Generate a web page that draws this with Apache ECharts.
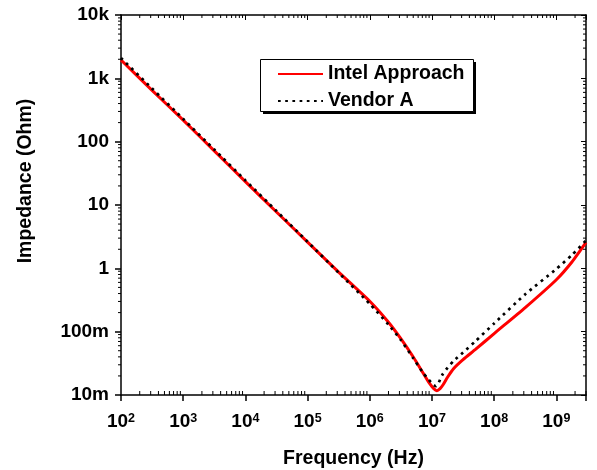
<!DOCTYPE html>
<html>
<head>
<meta charset="utf-8">
<script src="https://cdn.jsdelivr.net/npm/echarts@6/dist/echarts.min.js"></script>
<style>
    html, body { margin: 0; padding: 0; background: #fff; }
    #chart { width: 597px; height: 470px; }
</style>
</head>
<body>
<div id="chart"></div>
<script>
// data (Hz, Ohm)
var intelFreq = [100, 316, 1000, 3162, 1e4, 31623, 1e5, 316228, 1e6, 2.0e6, 3.16e6, 5.01e6, 7.08e6, 8.91e6,
    1.07e7, 1.20e7, 1.35e7, 1.51e7, 1.78e7, 2.24e7, 3.16e7, 5.01e7, 1e8, 3.16e8, 1e9, 1.78e9, 3e9];
var intelZ = [1950, 646, 219, 71.6, 23.4, 7.76, 2.60, 0.871, 0.302, 0.141, 0.0776, 0.0398, 0.0229, 0.0158,
    0.0126, 0.0117, 0.0126, 0.0145, 0.0191, 0.0263, 0.0363, 0.0525, 0.0933, 0.240, 0.661, 1.26, 2.57];

var vendorFreq = [100, 316, 1000, 3162, 1e4, 31623, 1e5, 316228, 1e6, 2.0e6, 3.16e6, 5.01e6, 7.08e6, 8.91e6,
    1.05e7, 1.15e7, 1.26e7, 1.45e7, 1.78e7, 2.24e7, 3.16e7, 5.01e7, 1e8, 3.16e8, 1e9, 1.78e9, 3e9];
var vendorZ = [2090, 692, 229, 75.0, 24.5, 8.04, 2.63, 0.851, 0.275, 0.129, 0.0741, 0.0380, 0.0229, 0.0174,
    0.0145, 0.0138, 0.0151, 0.0204, 0.0269, 0.0347, 0.0468, 0.0708, 0.135, 0.389, 0.977, 1.62, 2.75];

var seriesNames = ['Intel Approach', 'Vendor A'];
var yTickLabels = ['10m', '100m', '1', '10', '100', '1k', '10k'];   // 1e-2 .. 1e4

var xMin = 100, xMax = 3e9, yMin = 0.01, yMax = 10000;
var font = 'Liberation Sans, Arial, sans-serif';

function pairs(xs, ys) {
    var out = [];
    for (var i = 0; i < xs.length; i++) out.push([xs[i], ys[i]]);
    return out;
}

// minor ticks 2..9 in every decade
function minorTicks(lo, hi) {
    var list = [];
    for (var e = Math.floor(Math.log10(lo)); e <= Math.ceil(Math.log10(hi)); e++) {
        for (var m = 2; m <= 9; m++) {
            var v = m * Math.pow(10, e);
            if (v > lo && v < hi * 1.0001) list.push(v);
        }
    }
    return list;
}

function decade(v) {
    var l = Math.log10(v), e = Math.round(l);
    return Math.abs(l - e) < 0.01 ? e : null;
}

var myChart = echarts.init(document.getElementById('chart'));

var axisLine = {lineStyle: {color: '#000', width: 1.5}};

var option = {
    animation: false,
    grid: {left: 121, right: 11, top: 15, bottom: 75, outerBoundsMode: 'none'},
    // legend frame with its hard shadow
    graphic: [
        {type: 'rect', left: 263, top: 62, z: 1, shape: {width: 213, height: 52}, style: {fill: '#000'}},
        {type: 'rect', left: 260, top: 59, z: 2, shape: {width: 213, height: 52}, style: {fill: '#fff', stroke: '#000', lineWidth: 1}}
    ],
    legend: {
        data: seriesNames,
        orient: 'vertical',
        left: 260,
        top: 59,
        padding: [5, 12, 1, 17],
        itemWidth: 45,
        itemHeight: 20,
        itemGap: 7,
        z: 10,
        itemStyle: {opacity: 0},
        textStyle: {fontFamily: font, fontWeight: 'bold', fontSize: 19.5, color: '#000'}
    },
    xAxis: [
        {
            type: 'log',
            min: xMin,
            max: xMax,
            position: 'bottom',
            name: 'Frequency (Hz)',
            nameLocation: 'middle',
            nameGap: 54,
            nameTextStyle: {fontFamily: font, fontWeight: 'bold', fontSize: 19.5, color: '#000'},
            axisLine: axisLine,
            axisTick: {length: 6, lineStyle: {color: '#000', width: 1.5}},
            splitLine: {show: false},
            axisLabel: {
                margin: 17,
                formatter: function (v) {
                    var e = decade(v);
                    return e === null ? '' : '{b|10}{s|' + e + '}';
                },
                rich: {
                    b: {fontFamily: font, fontWeight: 'bold', fontSize: 19, color: '#000', lineHeight: 20},
                    s: {fontFamily: font, fontWeight: 'bold', fontSize: 12.5, color: '#000', verticalAlign: 'top', lineHeight: 20}
                }
            }
        },
        {
            type: 'log',
            min: xMin,
            max: xMax,
            position: 'top',
            axisLine: axisLine,
            axisTick: {inside: true, length: 5, lineStyle: {color: '#000', width: 1}},
            axisLabel: {show: false},
            splitLine: {show: false}
        }
    ],
    yAxis: [
        {
            type: 'log',
            min: yMin,
            max: yMax,
            position: 'left',
            name: 'Impedance (Ohm)',
            nameLocation: 'middle',
            nameGap: 85,
            nameTextStyle: {fontFamily: font, fontWeight: 'bold', fontSize: 19.5, color: '#000', padding: [0, 0, 0, 48]},
            axisLine: axisLine,
            axisTick: {length: 6, lineStyle: {color: '#000', width: 1.5}},
            splitLine: {show: false},
            axisLabel: {
                margin: 12,
                fontFamily: font,
                fontWeight: 'bold',
                fontSize: 19,
                color: '#000',
                formatter: function (v) {
                    var e = decade(v);
                    return e === null ? '' : yTickLabels[e + 2];
                }
            }
        },
        {
            type: 'log',
            min: yMin,
            max: yMax,
            position: 'right',
            axisLine: axisLine,
            axisTick: {inside: true, length: 5, lineStyle: {color: '#000', width: 1}},
            axisLabel: {show: false},
            splitLine: {show: false}
        }
    ],
    series: [
        {
            name: seriesNames[0],
            type: 'line',
            data: pairs(intelFreq, intelZ),
            showSymbol: false,
            symbol: 'none',
            smooth: 0.2,
            lineStyle: {color: '#ff0000', width: 3},
            itemStyle: {color: '#ff0000'},
            z: 3
        },
        {
            name: seriesNames[1],
            type: 'line',
            data: pairs(vendorFreq, vendorZ),
            showSymbol: false,
            symbol: 'none',
            smooth: 0.2,
            lineStyle: {color: '#000', width: 2.7, type: [2.7, 4.5]},
            itemStyle: {color: '#000'},
            z: 4
        },
        {
            // minor ticks on the frequency axes
            type: 'custom',
            silent: true,
            clip: false,
            data: minorTicks(xMin, xMax).map(function (v) { return [v, yMin]; }),
            renderItem: function (params, api) {
                var b = api.coord([api.value(0), yMin]);
                var t = api.coord([api.value(0), yMax]);
                var st = {stroke: '#000', lineWidth: 1};
                return {
                    type: 'group',
                    children: [
                        {type: 'line', shape: {x1: b[0], y1: b[1], x2: b[0], y2: b[1] - 4}, style: st},
                        {type: 'line', shape: {x1: t[0], y1: t[1], x2: t[0], y2: t[1] + 3}, style: st}
                    ]
                };
            },
            z: 5
        },
        {
            // minor ticks on the impedance axes
            type: 'custom',
            silent: true,
            clip: false,
            data: minorTicks(yMin, yMax).map(function (v) { return [xMin, v]; }),
            renderItem: function (params, api) {
                var l = api.coord([xMin, api.value(1)]);
                var r = api.coord([xMax, api.value(1)]);
                var st = {stroke: '#000', lineWidth: 1};
                return {
                    type: 'group',
                    children: [
                        {type: 'line', shape: {x1: l[0], y1: l[1], x2: l[0] - 3, y2: l[1]}, style: st},
                        {type: 'line', shape: {x1: r[0], y1: r[1], x2: r[0] - 3, y2: r[1]}, style: st}
                    ]
                };
            },
            z: 5
        }
    ]
};

myChart.setOption(option);
</script>
</body>
</html>
